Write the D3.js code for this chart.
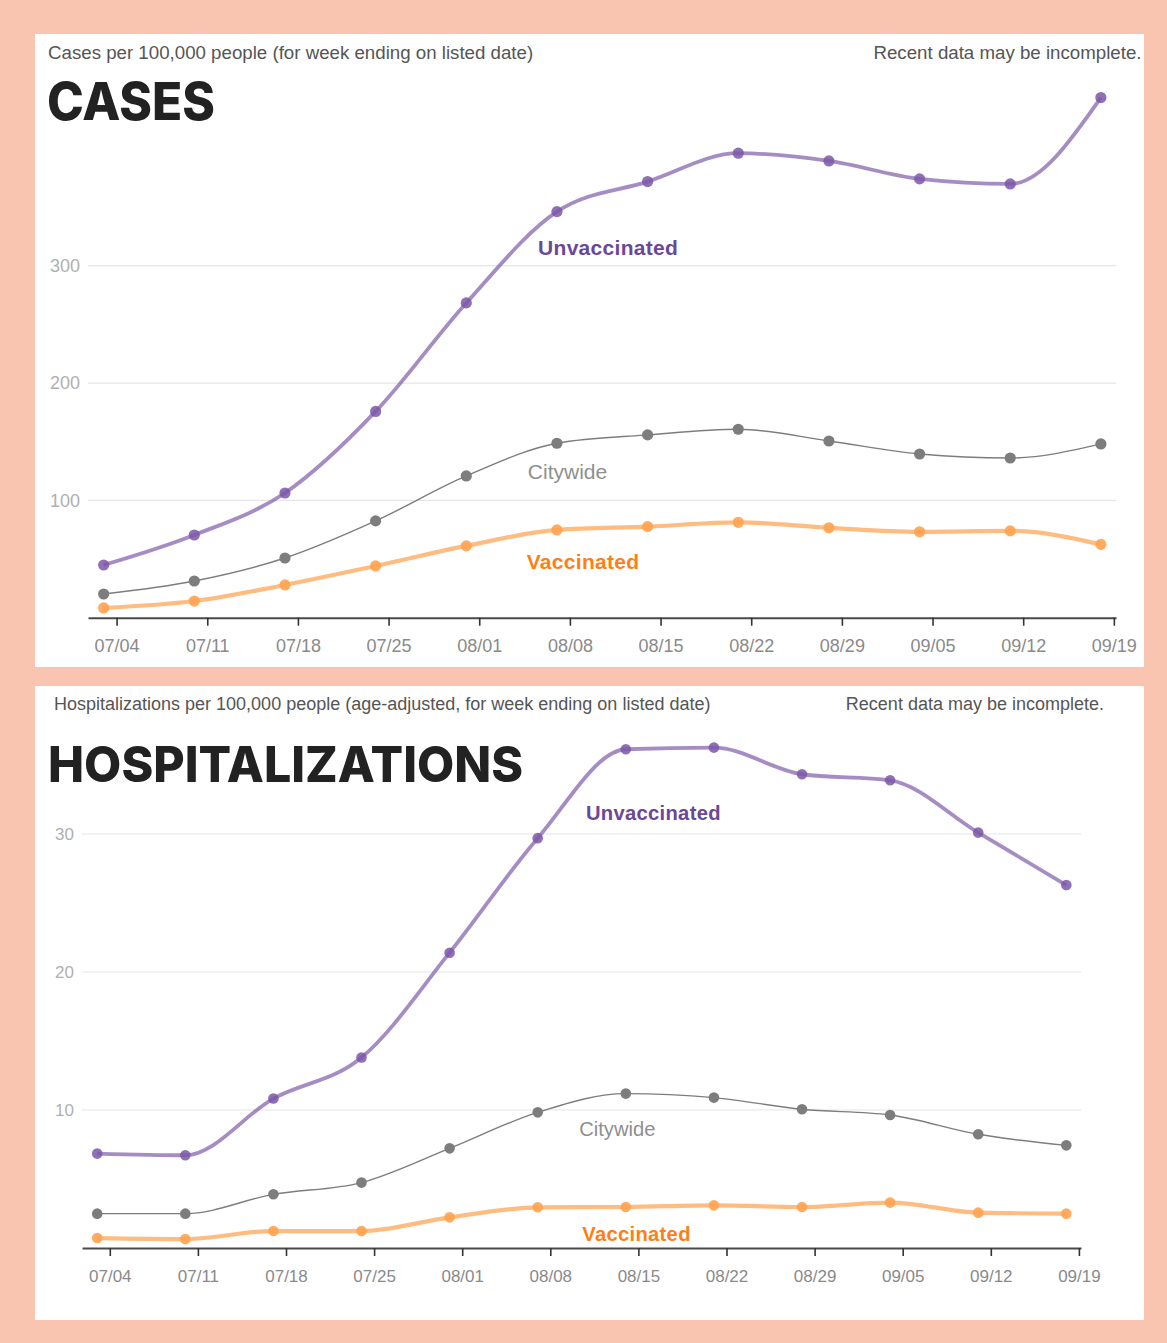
<!DOCTYPE html>
<html>
<head>
<meta charset="utf-8">
<script src="https://cdn.jsdelivr.net/npm/d3@7"></script>
<style>
  html, body { margin: 0; padding: 0; background: #f9c4b0; }
  svg { display: block; }
  .sub { font-family: "Liberation Sans", Arial, sans-serif; fill: #555; }
  .ttl { font-family: Inter, "Noto Sans", sans-serif; font-weight: 800; fill: #222; }
  .tick text { font-family: "Liberation Sans", Arial, sans-serif; fill: #8a8a8a; }
  .ylab { font-family: "Liberation Sans", Arial, sans-serif; fill: #b0b0b0; }
  .lbl { font-family: "Liberation Sans", Arial, sans-serif; }
</style>
</head>
<body>
<svg id="chart" width="1167" height="1343"></svg>
<script>
// weeks ending (data points are saturdays, axis ticks on sundays)
const weeks = ["2021-07-03", "2021-07-10", "2021-07-17", "2021-07-24", "2021-07-31", "2021-08-07",
  "2021-08-14", "2021-08-21", "2021-08-28", "2021-09-04", "2021-09-11", "2021-09-18"];
const tickDates = ["2021-07-04", "2021-07-11", "2021-07-18", "2021-07-25", "2021-08-01", "2021-08-08",
  "2021-08-15", "2021-08-22", "2021-08-29", "2021-09-05", "2021-09-12", "2021-09-19"];

const casesUnvax = [44.9, 70.5, 106.3, 175.8, 268.3, 346.1, 371.7, 395.9, 389.3, 374.0, 369.7, 443.3];
const casesCity = [20.2, 31.3, 50.9, 82.5, 120.8, 148.7, 155.8, 160.6, 150.6, 139.5, 136.1, 148.1];
const casesVax = [8.3, 14.2, 27.9, 44.1, 61.2, 74.8, 77.6, 81.3, 76.6, 73.2, 74.0, 62.5];
const casesYTicks = [100, 200, 300];

const hospUnvax = [6.84, 6.72, 10.83, 13.8, 21.4, 29.7, 36.14, 36.26, 34.33, 33.89, 30.1, 26.3];
const hospCity = [2.49, 2.49, 3.89, 4.74, 7.22, 9.83, 11.19, 10.9, 10.05, 9.64, 8.24, 7.44];
const hospVax = [0.72, 0.65, 1.23, 1.23, 2.22, 2.95, 2.97, 3.09, 2.97, 3.29, 2.56, 2.49];
const hospYTicks = [10, 20, 30];

const seriesNames = ["Citywide", "Vaccinated", "Unvaccinated"];

const parse = d3.timeParse("%Y-%m-%d");
const parseT = d3.timeParse("%Y-%m-%dT%H:%M");
const fmt = d3.timeFormat("%m/%d");

const styles = {
  Unvaccinated: { line: "#7b57a8", lineOp: 0.68, lw: 3.8, dot: "#7b57a8", dotOp: 0.85, label: "#6a4799", weight: "bold" },
  Citywide: { line: "#7d7d7d", lineOp: 1, lw: 1.4, dot: "#7d7d7d", dotOp: 1, label: "#8f8f8f", weight: "normal" },
  Vaccinated: { line: "#ffa24f", lineOp: 0.72, lw: 4.2, dot: "#ffa24f", dotOp: 0.9, label: "#ff7f17", weight: "bold" },
};

const svg = d3.select("#chart");

function drawPanel(p) {
  const g = svg.append("g");

  g.append("rect")
    .attr("x", p.box[0]).attr("y", p.box[1])
    .attr("width", p.box[2]).attr("height", p.box[3])
    .attr("fill", "#fff");

  g.append("text").attr("class", "sub")
    .attr("x", p.subX).attr("y", p.subY)
    .style("font-size", p.subSize + "px")
    .text(p.subtitle);
  g.append("text").attr("class", "sub")
    .attr("x", p.noteX).attr("y", p.subY)
    .attr("text-anchor", "end")
    .style("font-size", p.subSize + "px")
    .text("Recent data may be incomplete.");

  g.append("text").attr("class", "ttl")
    .attr("x", p.titleX).attr("y", p.titleY)
    .attr("textLength", p.titleW)
    .attr("lengthAdjust", "spacingAndGlyphs")
    .style("font-size", p.titleSize + "px")
    .text(p.title);

  const d0 = parse(tickDates[0]), d1 = parse(tickDates[tickDates.length - 1]);
  const x = d3.scaleTime()
    .domain([d3.timeHour.offset(d0, -53), d3.timeHour.offset(d1, 4)])
    .range(p.xr);
  const y = d3.scaleLinear().domain(p.yd).range(p.yr);

  // grid
  g.append("g")
    .selectAll("line")
    .data(p.yTicks)
    .join("line")
    .attr("x1", p.xr[0]).attr("x2", p.xr[1])
    .attr("y1", y).attr("y2", y)
    .attr("stroke", "#e6e6e6").attr("stroke-width", 1.2);

  g.append("g")
    .selectAll("text")
    .data(p.yTicks)
    .join("text")
    .attr("class", "ylab")
    .attr("x", p.xr[0] - 8)
    .attr("y", y)
    .attr("dy", "0.35em")
    .attr("text-anchor", "end")
    .style("font-size", p.tickSize + "px")
    .text((d) => d);

  // x axis
  const ax = g.append("g")
    .attr("transform", `translate(0,${y(0)})`)
    .call(d3.axisBottom(x)
      .tickValues(tickDates.map(parse))
      .tickFormat(fmt)
      .tickSize(8)
      .tickSizeOuter(0)
      .tickPadding(14));
  ax.select(".domain").attr("stroke", "#4a4a4a").attr("stroke-width", 2);
  ax.selectAll(".tick line").attr("stroke", "#333").attr("stroke-width", 1.6);
  ax.selectAll(".tick text").style("font-size", p.tickSize + "px");

  const line = d3.line()
    .x((d) => x(d.date))
    .y((d) => y(d.value))
    .curve(d3.curveMonotoneX);

  seriesNames.forEach((name) => {
    const st = styles[name];
    const pts = weeks.map((w, i) => ({ date: parse(w), value: p.series[name][i] }));
    g.append("path")
      .datum(pts)
      .attr("fill", "none")
      .attr("stroke", st.line)
      .attr("stroke-opacity", st.lineOp)
      .attr("stroke-width", st.lw)
      .attr("stroke-linejoin", "round")
      .attr("d", line);
    g.append("g")
      .selectAll("circle")
      .data(pts)
      .join("circle")
      .attr("cx", (d) => x(d.date))
      .attr("cy", (d) => y(d.value))
      .attr("r", p.r)
      .attr("fill", st.dot)
      .attr("fill-opacity", st.dotOp);
  });

  p.labels.forEach((l) => {
    const st = styles[l.name];
    g.append("text").attr("class", "lbl")
      .attr("x", x(parseT(l.at)))
      .attr("y", y(l.value))
      .attr("fill", st.label)
      .attr("font-weight", st.weight)
      .attr("letter-spacing", st.weight == "bold" ? "0.3px" : "0px")
      .style("font-size", p.labelSize + "px")
      .text(l.name);
  });
}

drawPanel({
  box: [35, 34, 1109, 633],
  subtitle: "Cases per 100,000 people (for week ending on listed date)",
  subX: 48, noteX: 1141.5, subY: 58.5, subSize: 18.7,
  title: "CASES", titleX: 47, titleY: 120, titleSize: 52, titleW: 168,
  xr: [88, 1116],
  yd: [0, 450], yr: [617.7, 617.7 - 450 * 1.1733],
  yTicks: casesYTicks,
  tickSize: 18,
  r: 5.6,
  labelSize: 21,
  series: { Unvaccinated: casesUnvax, Citywide: casesCity, Vaccinated: casesVax },
  labels: [
    { name: "Unvaccinated", at: "2021-08-05T13:00", value: 309 },
    { name: "Citywide", at: "2021-08-04T18:00", value: 118.2 },
    { name: "Vaccinated", at: "2021-08-04T16:00", value: 41.5 },
  ],
});

drawPanel({
  box: [35, 686, 1109, 634],
  subtitle: "Hospitalizations per 100,000 people (age-adjusted, for week ending on listed date)",
  subX: 54, noteX: 1104, subY: 710.3, subSize: 18,
  title: "HOSPITALIZATIONS", titleX: 48, titleY: 782, titleSize: 49, titleW: 475,
  xr: [82, 1081],
  yd: [0, 37], yr: [1248, 1248 - 37 * 13.8],
  yTicks: hospYTicks,
  tickSize: 17,
  r: 5.3,
  labelSize: 20.2,
  series: { Unvaccinated: hospUnvax, Citywide: hospCity, Vaccinated: hospVax },
  labels: [
    { name: "Unvaccinated", at: "2021-08-10T20:00", value: 31.0 },
    { name: "Citywide", at: "2021-08-10T07:00", value: 8.09 },
    { name: "Vaccinated", at: "2021-08-10T13:00", value: 0.51 },
  ],
});
</script>
</body>
</html>
